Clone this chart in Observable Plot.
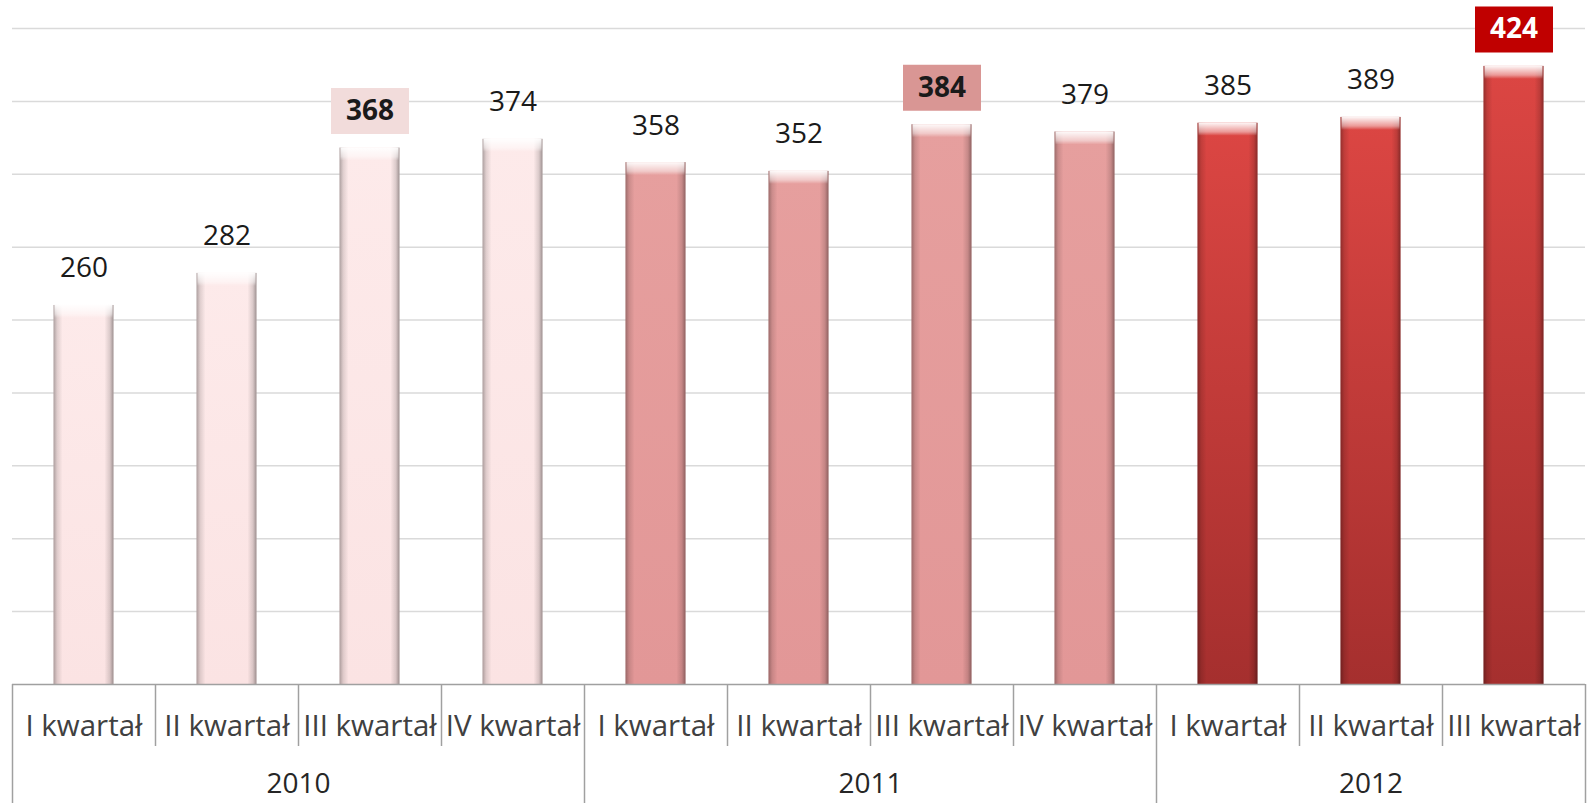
<!DOCTYPE html>
<html>
<head>
<meta charset="utf-8">
<script src="https://cdn.jsdelivr.net/npm/d3@7"></script>
<script src="https://cdn.jsdelivr.net/npm/@observablehq/plot@0.6"></script>
<style>
  html, body { margin: 0; padding: 0; background: #ffffff; overflow: hidden; }
  #chart svg { display: block; }
</style>
</head>
<body>
<div id="chart"></div>
<script>
// ---- data ----
const quarters = ["I kwartał", "II kwartał", "III kwartał", "IV kwartał",
                  "I kwartał", "II kwartał", "III kwartał", "IV kwartał",
                  "I kwartał", "II kwartał", "III kwartał"];
const years = ["2010", "2010", "2010", "2010",
               "2011", "2011", "2011", "2011",
               "2012", "2012", "2012"];
const values = [260, 282, 368, 374, 358, 352, 384, 379, 385, 389, 424];
const highlighted = [false, false, true, false, false, false, true, false, false, false, true];
const yearLabels = ["2010", "2011", "2012"];
const gridTicks = [50, 100, 150, 200, 250, 300, 350, 400, 450];

// ---- styles ----
const barFill = {"2010": "url(#g2010)", "2011": "url(#g2011)", "2012": "url(#g2012)"};
const boxFill = {"2010": "#f2dcdb", "2011": "#d99694", "2012": "#c00000"};
const boxText = {"2010": "#1a1a1a", "2011": "#1a1a1a", "2012": "#ffffff"};
const font = "'Open Sans', 'Noto Sans', sans-serif";

const rows = values.map((v, i) => ({
  i, quarter: quarters[i], year: years[i], value: v, hl: highlighted[i]
}));

// year groups: start / end slot index
const groups = yearLabels.map(y => {
  const idx = rows.filter(r => r.year === y).map(r => r.i);
  return {year: y, start: d3.min(idx), end: d3.max(idx) + 1};
});
const boundaries = d3.range(0, rows.length + 1).map(b => ({
  b, long: b === 0 || b === rows.length || years[b] !== years[b - 1]
}));

const boxSymbol = {
  draw(context) { context.rect(-39, -23, 78, 46); }
};

const inset = 41.5;
const labelDy = -37;

const marks = [
  Plot.ruleY(gridTicks, {stroke: "#dadada", strokeWidth: 1.5}),
];
for (const y of yearLabels) {
  const sub = rows.filter(r => r.year === y);
  marks.push(Plot.rectY(sub, {
    x1: d => d.i, x2: d => d.i + 1, y: "value",
    insetLeft: inset, insetRight: inset, fill: barFill[y]
  }));
}
marks.push(
  Plot.rectY(rows, {
    x1: d => d.i, x2: d => d.i + 1, y: "value",
    insetLeft: inset, insetRight: inset, fill: "url(#edge)"
  }),
  Plot.rectY(rows, {
    x1: d => d.i, x2: d => d.i + 1, y1: "value", y2: "value",
    insetLeft: inset + 1, insetRight: inset + 1, insetBottom: -13,
    fill: "url(#bevel)"
  }),
  Plot.ruleY([0], {stroke: "#a0a0a0", strokeWidth: 1.5}),
  Plot.ruleX(boundaries.filter(d => !d.long), {
    x: "b", y1: 0, y2: 0, insetBottom: -62, stroke: "#a0a0a0", strokeWidth: 1.5
  }),
  Plot.ruleX(boundaries.filter(d => d.long), {
    x: "b", y1: 0, y2: 0, insetBottom: -119, stroke: "#a0a0a0", strokeWidth: 1.5
  }),
  Plot.dot(rows.filter(d => d.hl), {
    x: d => d.i + 0.5, y: "value", dy: labelDy, r: 10,
    symbol: boxSymbol, fill: d => boxFill[d.year], stroke: null
  }),
  Plot.text(rows.filter(d => !d.hl), {
    x: d => d.i + 0.5, y: "value", dy: labelDy,
    text: d => String(d.value),
    fontSize: 28, fill: "#1a1a1a"
  }),
  Plot.text(rows.filter(d => d.hl), {
    x: d => d.i + 0.5, y: "value", dy: labelDy,
    text: d => String(d.value),
    fontSize: 28, fontWeight: "bold",
    fill: d => boxText[d.year]
  }),
  Plot.text(rows, {
    x: d => d.i + 0.5, y: 0, dy: 42, text: "quarter",
    fontSize: 29.5, fill: "#404040"
  }),
  Plot.text(groups, {
    x: d => (d.start + d.end) / 2, y: 0, dy: 100, text: "year",
    fontSize: 28, fill: "#262626"
  })
);

const chart = Plot.plot({
  width: 1587,
  height: 803,
  marginLeft: 12,
  marginRight: 2,
  marginTop: 28,
  marginBottom: 119,
  x: {type: "linear", domain: [0, rows.length], axis: null},
  y: {domain: [0, 450], axis: null},
  color: {type: "identity"},
  style: {fontFamily: font, background: "#ffffff", overflow: "visible"},
  marks
});

const defs = document.createElementNS("http://www.w3.org/2000/svg", "defs");
defs.innerHTML = `
  <linearGradient id="g2010" x1="0" y1="0" x2="0" y2="1">
    <stop offset="0" stop-color="#fdeaea"/><stop offset="1" stop-color="#fbe3e3"/>
  </linearGradient>
  <linearGradient id="g2011" x1="0" y1="0" x2="0" y2="1">
    <stop offset="0" stop-color="#e69f9e"/><stop offset="1" stop-color="#e29797"/>
  </linearGradient>
  <linearGradient id="g2012" x1="0" y1="0" x2="0" y2="1">
    <stop offset="0" stop-color="#dc4643"/><stop offset="1" stop-color="#a52f2e"/>
  </linearGradient>
  <linearGradient id="edge" x1="0" y1="0" x2="1" y2="0">
    <stop offset="0" stop-color="#000" stop-opacity="0.32"/>
    <stop offset="0.06" stop-color="#000" stop-opacity="0.12"/>
    <stop offset="0.15" stop-color="#000" stop-opacity="0"/>
    <stop offset="0.85" stop-color="#000" stop-opacity="0"/>
    <stop offset="0.94" stop-color="#000" stop-opacity="0.14"/>
    <stop offset="1" stop-color="#000" stop-opacity="0.38"/>
  </linearGradient>
  <linearGradient id="bevel" x1="0" y1="0" x2="0" y2="1">
    <stop offset="0" stop-color="#fff" stop-opacity="0.95"/>
    <stop offset="0.7" stop-color="#fff" stop-opacity="0.45"/>
    <stop offset="1" stop-color="#fff" stop-opacity="0"/>
  </linearGradient>`;
chart.insertBefore(defs, chart.firstChild);
document.getElementById("chart").appendChild(chart);
</script>
</body>
</html>
